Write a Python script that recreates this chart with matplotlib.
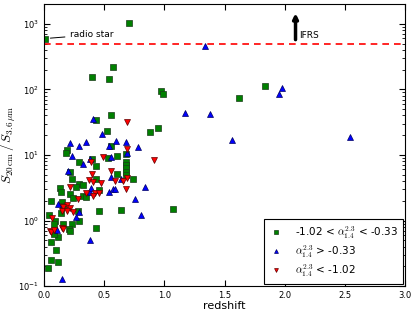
import numpy as np
import matplotlib
matplotlib.use('Agg')
import matplotlib.pyplot as plt

# -1.02 < alpha < -0.33  (green squares)
z_mid = [0.01, 0.71, 0.40, 0.57, 0.54, 0.97, 0.99, 0.56, 0.43, 0.52, 0.88, 0.95,
         0.56, 0.19, 0.18, 0.61, 0.68, 0.53, 0.40, 1.84, 1.62,
         0.29, 0.43, 0.22, 0.61, 0.68, 0.68, 0.68, 0.68, 0.68, 0.23, 0.74, 0.43,
         0.29, 0.32, 0.27, 0.13, 0.14, 0.22, 0.32, 0.35, 0.24, 0.46, 0.06, 0.15,
         0.16, 0.14, 0.28, 0.46, 0.64, 1.07, 0.29, 0.04, 0.09, 0.08, 0.16, 0.23,
         0.21, 0.22, 0.43, 0.12, 0.08, 0.06, 0.10, 0.06, 0.12, 0.03]
r_mid = [590, 1030, 155, 218, 145, 95, 86, 40, 34, 23, 22, 26,
         13.8, 12, 10.8, 9.7, 10.3, 9.0, 8.6, 112, 74,
         7.8, 6.7, 5.5, 5.1, 7.8, 7.0, 6.3, 5.5, 4.9, 4.3, 4.3, 4.3,
         3.6, 3.5, 3.2, 3.1, 2.7, 2.5, 2.35, 2.3, 2.2, 2.9, 2.0, 1.9,
         1.65, 1.28, 1.38, 1.38, 1.45, 1.52, 0.98, 1.22, 0.98, 0.89, 0.89, 0.9,
         0.75, 0.69, 0.77, 0.56, 0.62, 0.47, 0.36, 0.25, 0.23, 0.19]

# alpha > -0.33  (blue triangles up)
z_flat = [1.34, 1.98, 1.95, 1.38, 1.56, 2.54, 1.17, 0.41, 0.48, 0.22, 0.29, 0.35,
          0.60, 0.68, 0.54, 0.78, 0.23, 0.38, 0.56, 0.69, 0.32, 0.20, 0.56, 0.64,
          0.54, 0.57, 0.59, 0.38, 0.39, 0.84, 0.76, 0.12, 0.29, 0.27, 0.81, 0.11,
          0.38, 0.15]
r_flat = [460, 105, 86, 42, 17, 18.7, 44, 35, 21, 15, 13.6, 15.8,
          16.3, 15.6, 13.7, 13.3, 9.6, 8.7, 9.4, 10.8, 7.2, 5.7, 4.6, 4.3,
          2.7, 3.0, 3.0, 2.7, 3.1, 3.2, 2.1, 1.8, 1.36, 1.14, 1.2, 0.72,
          0.50, 0.13]

# alpha < -1.02  (red triangles down)
z_steep = [0.69, 0.69, 0.49, 0.39, 0.91, 0.40, 0.56, 0.59, 0.66, 0.69, 0.37, 0.41,
           0.47, 0.22, 0.35, 0.42, 0.46, 0.68, 0.41, 0.28, 0.19, 0.16, 0.22, 0.15,
           0.19, 0.24, 0.07, 0.05, 0.06, 0.15, 0.16, 0.08]
r_steep = [32, 12.5, 9.4, 7.9, 8.3, 5.1, 5.7, 4.0, 4.0, 4.4, 4.1, 3.9,
           3.7, 3.2, 2.6, 2.6, 2.6, 3.0, 2.4, 2.1, 1.7, 1.6, 1.55, 1.4,
           1.4, 1.35, 1.1, 0.69, 0.66, 0.76, 0.73, 0.72]

ifrs_limit = 500

plt.rcParams['font.family'] = 'DejaVu Sans'
plt.rcParams['mathtext.fontset'] = 'cm'
plt.rcParams['xtick.direction'] = 'in'
plt.rcParams['ytick.direction'] = 'in'

fig = plt.figure(figsize=(4.15, 3.13), dpi=100)
ax = fig.add_axes([0.106, 0.086, 0.870, 0.901])

ax.plot(z_mid, r_mid, 's', color='green', mec='#1a3a1a', mew=0.5, ms=4,
        label=r'-1.02 < $\alpha_{1.4}^{2.3}$ < -0.33')
ax.plot(z_flat, r_flat, '^', color='blue', mec='#000060', mew=0.5, ms=4,
        label=r'$\alpha_{1.4}^{2.3}$ > -0.33')
ax.plot(z_steep, r_steep, 'v', color='red', mec='#600000', mew=0.5, ms=4,
        label=r'$\alpha_{1.4}^{2.3}$ < -1.02')

ax.axhline(ifrs_limit, color='red', ls='--', lw=1.2, dashes=(4, 3))

ax.annotate('radio star', xy=(0.03, 600), xytext=(0.22, 680),
            fontsize=6.5, va='center',
            arrowprops=dict(arrowstyle='-', color='k', lw=0.7))
ax.annotate('', xy=(2.09, 1600), xytext=(2.09, 520),
            arrowprops=dict(arrowstyle='-|>', color='k', lw=2.5, mutation_scale=7))
ax.text(2.12, 560, 'IFRS', fontsize=6.5, va='bottom')

ax.set_yscale('log')
ax.set_xlim(0, 3.0)
ax.set_ylim(0.1, 2000)
ax.set_xticks([0.0, 0.5, 1.0, 1.5, 2.0, 2.5, 3.0])
ax.tick_params(labelsize=6, top=True, right=True, which='both')
ax.tick_params(which='major', length=4)
ax.tick_params(which='minor', length=2)
ax.set_xlabel('redshift', fontsize=8, labelpad=1)
ax.set_ylabel(r'$S_{20\,\mathrm{cm}}\,/\,S_{3.6\,\mu\mathrm{m}}$', fontsize=9.5, labelpad=0)

leg = ax.legend(loc='lower right', numpoints=1, fontsize=7.5, fancybox=False,
                edgecolor='k', framealpha=1, borderaxespad=0.2, handletextpad=1.1,
                handlelength=1.4, markerscale=0.7, labelspacing=0.25,
                borderpad=0.5)
leg.get_frame().set_linewidth(0.8)

fig.savefig('out.png', dpi=100)
